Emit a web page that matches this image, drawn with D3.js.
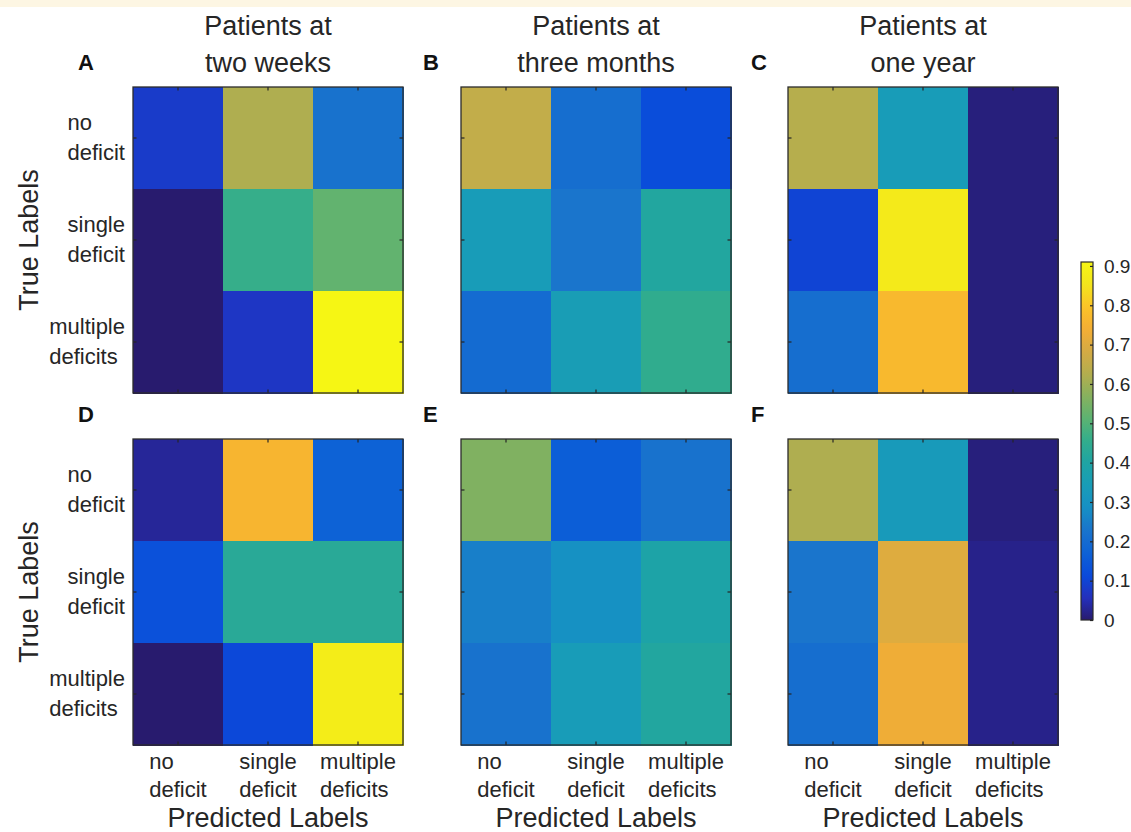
<!DOCTYPE html>
<html>
<head>
<meta charset="utf-8">
<script src="https://cdn.jsdelivr.net/npm/d3@7"></script>
<style>
  body { margin: 0; background: #fff; }
  text { font-family: "Liberation Sans", Arial, Helvetica, sans-serif; fill: #262626; }
</style>
</head>
<body>
<script>
(function() {
  'use strict';

  // categories (tick labels, two lines each)
  var categories = [["no", "deficit"], ["single", "deficit"], ["multiple", "deficits"]];
  var columnTitles = [["Patients at", "two weeks"], ["Patients at", "three months"], ["Patients at", "one year"]];
  var panelLetters = ["A", "B", "C", "D", "E", "F"];

  // rows = true labels, columns = predicted labels
  var matrixA = [[0.08, 0.62, 0.22], [0.00, 0.46, 0.52], [0.00, 0.07, 0.91]];
  var matrixB = [[0.65, 0.21, 0.12], [0.34, 0.23, 0.41], [0.20, 0.35, 0.45]];
  var matrixC = [[0.63, 0.34, 0.01], [0.10, 0.87, 0.01], [0.21, 0.77, 0.01]];
  var matrixD = [[0.03, 0.76, 0.17], [0.13, 0.43, 0.43], [0.00, 0.11, 0.88]];
  var matrixE = [[0.56, 0.16, 0.22], [0.25, 0.29, 0.39], [0.22, 0.34, 0.41]];
  var matrixF = [[0.62, 0.33, 0.01], [0.23, 0.70, 0.02], [0.21, 0.73, 0.02]];
  var matrices = [matrixA, matrixB, matrixC, matrixD, matrixE, matrixF];

  var colorbarTicks = [0, 0.1, 0.2, 0.3, 0.4, 0.5, 0.6, 0.7, 0.8, 0.9];
  var colorMax = 0.91;

  // parula-like colormap anchors (as rendered in the figure)
  var parula = ["#281b6e", "#2430bd", "#0a4adb", "#0d62d6", "#1a74cc", "#1690c4",
    "#189cb8", "#1ea4a4", "#32ad8c", "#5cb372", "#86b15e", "#b4ae4e",
    "#d4ab44", "#f4ad35", "#fcc428", "#f3e51c", "#f6f614"];

  var width = 1131, height = 832;
  var cellW = 270, cellH = 306;
  var lefts = [133, 461, 788];
  var tops = [87, 439];
  var letterX = [78, 423, 751];

  var color = d3.scaleSequential(d3.piecewise(d3.interpolateRgb, parula))
    .domain([0, colorMax]);

  var svg = d3.select("body").append("svg")
    .attr("width", width)
    .attr("height", height);

  svg.append("rect")
    .attr("width", width)
    .attr("height", 7)
    .attr("fill", "#fdf6e3");

  var x = d3.scaleBand().domain(d3.range(3)).range([0, cellW]);
  var y = d3.scaleBand().domain(d3.range(3)).range([0, cellH]);

  // titles
  columnTitles.forEach(function(lines, c) {
    var t = svg.append("text")
      .attr("text-anchor", "middle")
      .attr("font-size", 27);
    lines.forEach(function(line, k) {
      t.append("tspan")
        .attr("x", lefts[c] + cellW / 2)
        .attr("y", 35 + k * 37)
        .text(line);
    });
  });

  matrices.forEach(function(m, i) {
    var c = i % 3, r = Math.floor(i / 3);
    var g = svg.append("g")
      .attr("transform", "translate(" + lefts[c] + "," + tops[r] + ")");

    var cells = [];
    m.forEach(function(row, ri) {
      row.forEach(function(v, ci) { cells.push({ r: ri, c: ci, v: v }); });
    });

    g.selectAll("rect.cell")
      .data(cells)
      .enter().append("rect")
      .attr("class", "cell")
      .attr("x", function(d) { return x(d.c); })
      .attr("y", function(d) { return y(d.r); })
      .attr("width", x.bandwidth() + 0.5)
      .attr("height", y.bandwidth() + 0.5)
      .attr("shape-rendering", "crispEdges")
      .attr("fill", function(d) { return color(d.v); });

    // inside ticks on all four sides
    var tk = 3.5;
    d3.range(3).forEach(function(k) {
      var cx = x(k) + x.bandwidth() / 2, cy = y(k) + y.bandwidth() / 2;
      [[cx, 0, cx, tk], [cx, cellH, cx, cellH - tk], [0, cy, tk, cy], [cellW, cy, cellW - tk, cy]]
        .forEach(function(p) {
          g.append("line")
            .attr("x1", p[0]).attr("y1", p[1]).attr("x2", p[2]).attr("y2", p[3])
            .attr("stroke", "#262626").attr("stroke-width", 1.2);
        });
    });

    g.append("rect")
      .attr("width", cellW)
      .attr("height", cellH)
      .attr("fill", "none")
      .attr("stroke", "#2b2b2b")
      .attr("stroke-width", 1.3);

    // panel letter
    svg.append("text")
      .attr("x", letterX[c])
      .attr("y", tops[r] - 17)
      .attr("font-size", 22)
      .attr("font-weight", "bold")
      .style("fill", "#111")
      .text(panelLetters[i]);

    // y tick labels on left column
    if (c === 0) {
      categories.forEach(function(lines, k) {
        var t = g.append("text").attr("font-size", 22);
        lines.forEach(function(line, li) {
          t.append("tspan")
            .attr("x", 0)
            .attr("y", y(k) + y.bandwidth() / 2 - 8 + li * 30)
            .text(line);
        });
        var w = t.node().getBBox().width;
        t.selectAll("tspan").attr("x", -8 - w);
      });
      g.append("text")
        .attr("transform", "translate(" + (38 - lefts[c]) + "," + (cellH / 2) + ") rotate(-90)")
        .attr("text-anchor", "middle")
        .attr("font-size", 27)
        .text("True Labels");
    }

    // x tick labels on bottom row
    if (r === 1) {
      categories.forEach(function(lines, k) {
        var t = g.append("text").attr("font-size", 22);
        lines.forEach(function(line, li) {
          t.append("tspan")
            .attr("x", 0)
            .attr("y", cellH + 24 + li * 28)
            .text(line);
        });
        var w = t.node().getBBox().width;
        t.selectAll("tspan").attr("x", x(k) + x.bandwidth() / 2 - w / 2);
      });
      g.append("text")
        .attr("x", cellW / 2)
        .attr("y", cellH + 82)
        .attr("text-anchor", "middle")
        .attr("font-size", 27)
        .text("Predicted Labels");
    }
  });

  // colorbar
  var cbX = 1081, cbW = 12, cbTop = 262, cbBottom = 620;
  var cy = d3.scaleLinear().domain([0, colorMax]).range([cbBottom, cbTop]);

  var grad = svg.append("defs").append("linearGradient")
    .attr("id", "cbgrad")
    .attr("x1", 0).attr("y1", 1).attr("x2", 0).attr("y2", 0);
  grad.selectAll("stop")
    .data(d3.range(0, 1.0001, 0.02))
    .enter().append("stop")
    .attr("offset", function(d) { return d; })
    .attr("stop-color", function(d) { return color(d * colorMax); });

  svg.append("rect")
    .attr("x", cbX).attr("y", cbTop)
    .attr("width", cbW).attr("height", cbBottom - cbTop)
    .attr("fill", "url(#cbgrad)")
    .attr("stroke", "#2b2b2b")
    .attr("stroke-width", 1.2);

  var cbAxis = svg.append("g")
    .attr("transform", "translate(" + (cbX + cbW) + ",0)")
    .call(d3.axisRight(cy)
      .tickValues(colorbarTicks)
      .tickSize(-3)
      .tickPadding(11)
      .tickFormat(function(d) { return d === 0 ? "0" : d3.format(".1f")(d); }));
  cbAxis.select(".domain").remove();
  cbAxis.selectAll(".tick line").attr("stroke", "#262626").attr("stroke-width", 1.2);
  cbAxis.selectAll(".tick text")
    .attr("font-size", 19)
    .attr("font-family", "Liberation Sans, Arial, sans-serif")
    .style("fill", "#262626");
})();
</script>
</body>
</html>
